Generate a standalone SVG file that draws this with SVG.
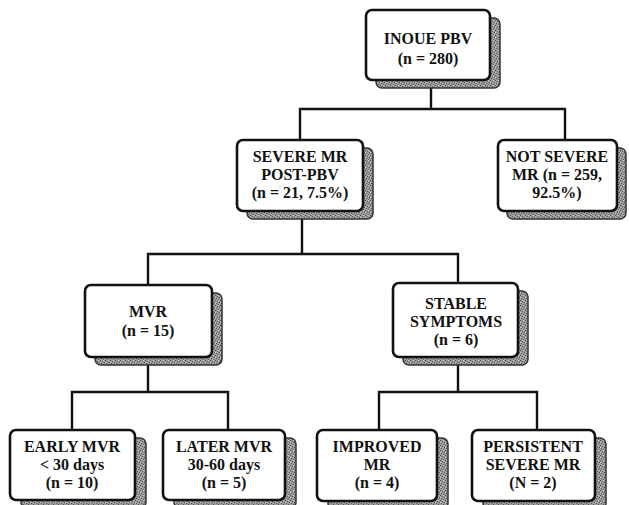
<svg xmlns="http://www.w3.org/2000/svg" width="629" height="505" viewBox="0 0 629 505">
<defs>
<pattern id="stip" width="5" height="5" patternUnits="userSpaceOnUse">
<rect width="5" height="5" fill="#9c9c9c"/>
<rect x="0" y="0" width="1" height="1" fill="#4a4a4a"/>
<rect x="2" y="1" width="1" height="1" fill="#5a5a5a"/>
<rect x="4" y="2" width="1" height="1" fill="#444"/>
<rect x="1" y="3" width="1" height="1" fill="#555"/>
<rect x="3" y="4" width="1" height="1" fill="#5a5a5a"/>
<rect x="3" y="0" width="1" height="1" fill="#d0d0d0"/>
<rect x="0" y="2" width="1" height="1" fill="#d0d0d0"/>
</pattern>
</defs>
<style>
.shadow{fill:url(#stip);stroke:#333;stroke-width:1.5}
.box{fill:#fff;stroke:#111;stroke-width:2.6}
.conn{stroke:#111;stroke-width:2.4;fill:none;stroke-linecap:square}
text{font-family:"Liberation Serif","Times New Roman",serif;font-weight:bold;font-size:16px;fill:#111;text-anchor:middle}
</style>
<rect width="629" height="505" fill="#fff"/>
<g id="connectors">
<path class="conn" d="M431 88V109M300 140V109H565V140"/>
<path class="conn" d="M302 219V254M148 285V254H458V283"/>
<path class="conn" d="M148 365V392M72 430V392H228V430"/>
<path class="conn" d="M458 366V392M379 430V392H537V430"/>
</g>
<g id="root">
<rect class="shadow" x="376" y="18" width="124" height="70" rx="6"/>
<rect class="box" x="366" y="10" width="124" height="70" rx="6"/>
<text x="428" y="44">INOUE PBV</text>
<text x="428" y="64">(n = 280)</text>
</g>
<g id="severe">
<rect class="shadow" x="247" y="148" width="126" height="71" rx="6"/>
<rect class="box" x="237" y="140" width="126" height="71" rx="6"/>
<text x="300" y="162">SEVERE MR</text>
<text x="300" y="180">POST-PBV</text>
<text x="300" y="198">(n = 21, 7.5%)</text>
</g>
<g id="notsevere">
<rect class="shadow" x="507" y="148" width="119" height="71" rx="6"/>
<rect class="box" x="498" y="140" width="119" height="71" rx="6"/>
<text x="557" y="162">NOT SEVERE</text>
<text x="557" y="180">MR (n = 259,</text>
<text x="557" y="198">92.5%)</text>
</g>
<g id="mvr">
<rect class="shadow" x="95" y="293" width="127" height="72" rx="6"/>
<rect class="box" x="85" y="285" width="127" height="72" rx="6"/>
<text x="148" y="317">MVR</text>
<text x="148" y="336">(n = 15)</text>
</g>
<g id="stable">
<rect class="shadow" x="403" y="291" width="125" height="74" rx="6"/>
<rect class="box" x="393" y="283" width="125" height="74" rx="6"/>
<text x="456" y="309">STABLE</text>
<text x="456" y="327">SYMPTOMS</text>
<text x="456" y="345">(n = 6)</text>
</g>
<g id="early">
<rect class="shadow" x="21" y="438" width="125" height="70" rx="6"/>
<rect class="box" x="10" y="430" width="125" height="70" rx="6"/>
<text x="72" y="452">EARLY MVR</text>
<text x="72" y="470">&lt; 30 days</text>
<text x="72" y="488">(n = 10)</text>
</g>
<g id="later">
<rect class="shadow" x="174" y="438" width="122" height="70" rx="6"/>
<rect class="box" x="163" y="430" width="122" height="70" rx="6"/>
<text x="224" y="452">LATER MVR</text>
<text x="224" y="470">30-60 days</text>
<text x="224" y="488">(n = 5)</text>
</g>
<g id="improved">
<rect class="shadow" x="328" y="438" width="120" height="71" rx="6"/>
<rect class="box" x="317" y="430" width="120" height="71" rx="6"/>
<text x="377" y="452">IMPROVED</text>
<text x="377" y="470">MR</text>
<text x="377" y="488">(n = 4)</text>
</g>
<g id="persistent">
<rect class="shadow" x="483" y="438" width="123" height="71" rx="6"/>
<rect class="box" x="472" y="430" width="123" height="71" rx="6"/>
<text x="533" y="452">PERSISTENT</text>
<text x="533" y="470">SEVERE MR</text>
<text x="533" y="488">(N = 2)</text>
</g>
</svg>
